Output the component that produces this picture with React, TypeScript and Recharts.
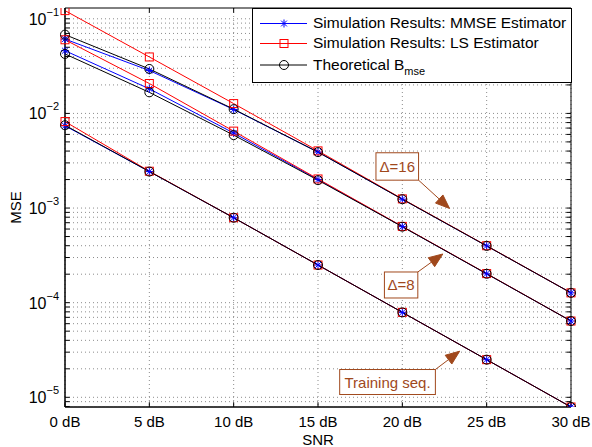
import React from "react";
import {
  CartesianGrid,
  Line,
  LineChart,
  ReferenceArea,
  ReferenceDot,
  ReferenceLine,
  XAxis,
  YAxis,
} from "recharts";

const FONT = '"Liberation Sans", Arial, Helvetica, sans-serif';
const BROWN = "#a0481c";
const GRID = "#8c8c8c";

const snr = [0, 5, 10, 15, 20, 25, 30];

// delta = 16
const mmse16 = [0.061, 0.0284, 0.011, 0.0039, 0.00124, 0.000398, 0.000127];
const ls16 = [0.122, 0.0395, 0.0127, 0.00402, 0.00125, 0.0004, 0.000127];
const theory16 = [0.068, 0.0295, 0.0111, 0.0039, 0.00124, 0.000398, 0.000127];

// delta = 8
const mmse8 = [0.046, 0.0182, 0.0062, 0.002, 0.000637, 0.000202, 0.000064];
const ls8 = [0.06, 0.0207, 0.0065, 0.00203, 0.00064, 0.000203, 0.000064];
const theory8 = [0.0425, 0.0167, 0.0059, 0.00197, 0.000635, 0.000202, 0.000064];

// training sequence
const mmseTr = [0.0074, 0.00243, 0.00079, 0.00025, 0.000079, 0.000025, 0.0000079];
const lsTr = [0.0082, 0.00245, 0.00079, 0.00025, 0.000079, 0.000025, 0.0000079];
const theoryTr = [0.0075, 0.00243, 0.00079, 0.00025, 0.000079, 0.000025, 0.0000079];

const xTicks = [0, 5, 10, 15, 20, 25, 30];
const yTicks = [1e-5, 1e-4, 1e-3, 1e-2, 1e-1];
const Y_MIN = 7.9e-6;
const Y_MAX = 0.13;

const data = snr.map((s, i) => ({
  snr: s,
  mmse16: mmse16[i],
  ls16: ls16[i],
  theory16: theory16[i],
  mmse8: mmse8[i],
  ls8: ls8[i],
  theory8: theory8[i],
  mmseTr: mmseTr[i],
  lsTr: lsTr[i],
  theoryTr: theoryTr[i],
}));

// minor log grid lines (2..9 x 10^n) inside the axis range
const minorGrid: number[] = [];
for (let e = -6; e <= -1; e++) {
  for (let m = 2; m <= 9; m++) {
    const v = m * Math.pow(10, e);
    if (v > Y_MIN && v < Y_MAX) minorGrid.push(v);
  }
}

function Star({ cx, cy }: { cx: number; cy: number }) {
  const r = 4;
  const d = r * 0.72;
  return (
    <g stroke="#0000ff" strokeWidth={1}>
      <line x1={cx - r} y1={cy} x2={cx + r} y2={cy} />
      <line x1={cx} y1={cy - r} x2={cx} y2={cy + r} />
      <line x1={cx - d} y1={cy - d} x2={cx + d} y2={cy + d} />
      <line x1={cx - d} y1={cy + d} x2={cx + d} y2={cy - d} />
    </g>
  );
}

function Square({ cx, cy }: { cx: number; cy: number }) {
  return <rect x={cx - 4} y={cy - 4} width={8} height={8} fill="none" stroke="#ff0000" strokeWidth={1} />;
}

function Circle({ cx, cy }: { cx: number; cy: number }) {
  return <circle cx={cx} cy={cy} r={4.5} fill="none" stroke="#000" strokeWidth={1} />;
}

const starDot = (p: any) => <Star key={p.index} cx={p.cx} cy={p.cy} />;
const squareDot = (p: any) => <Square key={p.index} cx={p.cx} cy={p.cy} />;
const circleDot = (p: any) => <Circle key={p.index} cx={p.cx} cy={p.cy} />;

function PowTick({ x, y, payload }: any) {
  const exp = Math.round(Math.log10(payload.value));
  return (
    <text x={x} y={y} dy={6} textAnchor="end" fontSize={16} fontFamily={FONT} fill="#000">
      10
      <tspan dy={-9} fontSize={11}>{`\u2212${-exp}`}</tspan>
    </text>
  );
}

function Callout({
  cx,
  cy,
  text,
  box,
  start,
}: {
  cx: number;
  cy: number;
  text: string;
  box: [number, number, number, number];
  start: [number, number];
}) {
  const [l, t, r, b] = box;
  const sx = cx + start[0];
  const sy = cy + start[1];
  const dx = cx - sx;
  const dy = cy - sy;
  const len = Math.sqrt(dx * dx + dy * dy);
  const ux = dx / len;
  const uy = dy / len;
  const head = 14;
  const half = 5.5;
  const bx = cx - ux * head;
  const by = cy - uy * head;
  const pts = `${cx},${cy} ${bx - uy * half},${by + ux * half} ${bx + uy * half},${by - ux * half}`;
  return (
    <g>
      <line x1={sx} y1={sy} x2={bx} y2={by} stroke={BROWN} strokeWidth={1} />
      <polygon points={pts} fill={BROWN} stroke={BROWN} />
      <rect x={cx + l} y={cy + t} width={r - l} height={b - t} fill="#fff" stroke={BROWN} strokeWidth={1} />
      <text
        x={cx + (l + r) / 2}
        y={cy + (t + b) / 2}
        dy={5.5}
        textAnchor="middle"
        fontSize={15}
        fontFamily={FONT}
        fill={BROWN}
      >
        {text}
      </text>
    </g>
  );
}

function LegendBox() {
  const rows = [
    { y: 14.5, color: "#0000ff", marker: "star", label: "Simulation Results: MMSE Estimator" },
    { y: 34.5, color: "#ff0000", marker: "square", label: "Simulation Results: LS Estimator" },
    { y: 56, color: "#000000", marker: "circle", label: "Theoretical B" },
  ];
  return (
    <div
      style={{
        position: "absolute",
        left: 252,
        top: 8,
        width: 320,
        height: 75,
        boxSizing: "border-box",
        border: "1px solid #000",
        background: "#fff",
      }}
    >
      <svg width={318} height={73}>
        {rows.map((row) => (
          <g key={row.label}>
            <line x1={7} y1={row.y} x2={54} y2={row.y} stroke={row.color} strokeWidth={1} />
            {row.marker === "star" && <Star cx={31} cy={row.y} />}
            {row.marker === "square" && <Square cx={31} cy={row.y} />}
            {row.marker === "circle" && <Circle cx={31} cy={row.y} />}
            <text x={60} y={row.y - 1} dy={5.5} fontSize={15.5} fontFamily={FONT} fill="#000">
              {row.label}
              {row.marker === "circle" && (
                <tspan dy={5} fontSize={11}>
                  mse
                </tspan>
              )}
            </text>
          </g>
        ))}
      </svg>
    </div>
  );
}

const series = [
  { key: "mmse16", color: "#0000ff", dot: starDot },
  { key: "mmse8", color: "#0000ff", dot: starDot },
  { key: "mmseTr", color: "#0000ff", dot: starDot },
  { key: "ls16", color: "#ff0000", dot: squareDot },
  { key: "ls8", color: "#ff0000", dot: squareDot },
  { key: "lsTr", color: "#ff0000", dot: squareDot },
  { key: "theory16", color: "#000000", dot: circleDot },
  { key: "theory8", color: "#000000", dot: circleDot },
  { key: "theoryTr", color: "#000000", dot: circleDot },
];

// inward tick marks on all four sides (MATLAB box style)
const LOG_TICK = 0.05;
const yTickMarks = yTicks.concat(minorGrid);

export default function App() {
  return (
    <div style={{ position: "absolute", left: 0, top: 0, width: 592, height: 447, background: "#fff" }}>
      <LineChart width={592} height={447} data={data} margin={{ top: 8, right: 21, left: 0, bottom: 0 }}>
        <CartesianGrid horizontal={false} stroke={GRID} strokeDasharray="1 3" />
        {yTicks.concat(minorGrid).map((v) => (
          <ReferenceLine key={v} y={v} stroke={GRID} strokeDasharray="1 3" />
        ))}
        {yTickMarks.map((v) => (
          <ReferenceLine
            key={`l${v}`}
            segment={[
              { x: 0, y: v },
              { x: 0.28, y: v },
            ]}
            stroke="#000"
          />
        ))}
        {yTickMarks.map((v) => (
          <ReferenceLine
            key={`r${v}`}
            segment={[
              { x: 29.72, y: v },
              { x: 30, y: v },
            ]}
            stroke="#000"
          />
        ))}
        {xTicks.map((v) => (
          <ReferenceLine
            key={`b${v}`}
            segment={[
              { x: v, y: Y_MIN },
              { x: v, y: Y_MIN * Math.pow(10, LOG_TICK) },
            ]}
            stroke="#000"
          />
        ))}
        {xTicks.map((v) => (
          <ReferenceLine
            key={`t${v}`}
            segment={[
              { x: v, y: Y_MAX / Math.pow(10, LOG_TICK) },
              { x: v, y: Y_MAX },
            ]}
            stroke="#000"
          />
        ))}
        <XAxis
          dataKey="snr"
          type="number"
          domain={[0, 30]}
          ticks={xTicks}
          tickFormatter={(v: number) => `${v} dB`}
          tick={{ fontSize: 15, fontFamily: FONT, fill: "#000" }}
          tickSize={0}
          tickMargin={9}
          height={40}
          axisLine={{ stroke: "#000" }}
          label={{
            content: ({ viewBox }: any) => (
              <text
                x={viewBox.x + viewBox.width / 2}
                y={viewBox.y + 38}
                textAnchor="middle"
                fontSize={15}
                fontFamily={FONT}
                fill="#000"
              >
                SNR
              </text>
            ),
          }}
        />
        <YAxis
          scale="log"
          type="number"
          domain={[Y_MIN, Y_MAX]}
          allowDataOverflow
          ticks={yTicks}
          tick={<PowTick />}
          tickSize={0}
          tickMargin={6}
          width={65}
          axisLine={{ stroke: "#000" }}
          label={{
            content: ({ viewBox }: any) => (
              <text
                x={viewBox.x + 15}
                y={viewBox.y + viewBox.height / 2}
                transform={`rotate(-90 ${viewBox.x + 15} ${viewBox.y + viewBox.height / 2})`}
                textAnchor="middle"
                dy={5.5}
                fontSize={15}
                fontFamily={FONT}
                fill="#000"
              >
                MSE
              </text>
            ),
          }}
        />
        <ReferenceArea x1={0} x2={30} y1={Y_MIN} y2={Y_MAX} fill="none" stroke="#000" strokeWidth={1} />
        {series.map((s) => (
          <Line
            key={s.key}
            dataKey={s.key}
            stroke={s.color}
            strokeWidth={1}
            dot={s.dot}
            activeDot={false}
            isAnimationActive={false}
          />
        ))}
        <ReferenceDot
          x={22.8}
          y={9.9e-4}
          r={0}
          ifOverflow="visible"
          shape={(p: any) => (
            <Callout cx={p.cx} cy={p.cy} text={"\u0394=16"} box={[-73.6, -55.7, -31, -28.3]} start={[-31, -28.3]} />
          )}
        />
        <ReferenceDot
          x={22.4}
          y={3.27e-4}
          r={0}
          ifOverflow="visible"
          shape={(p: any) => (
            <Callout cx={p.cx} cy={p.cy} text={"\u0394=8"} box={[-58.4, 18, -25, 44]} start={[-25, 18]} />
          )}
        />
        <ReferenceDot
          x={23.4}
          y={3.07e-5}
          r={0}
          ifOverflow="visible"
          shape={(p: any) => (
            <Callout cx={p.cx} cy={p.cy} text="Training seq." box={[-120, 18.3, -24.3, 43.3]} start={[-24.3, 18.3]} />
          )}
        />
      </LineChart>
      <LegendBox />
    </div>
  );
}
